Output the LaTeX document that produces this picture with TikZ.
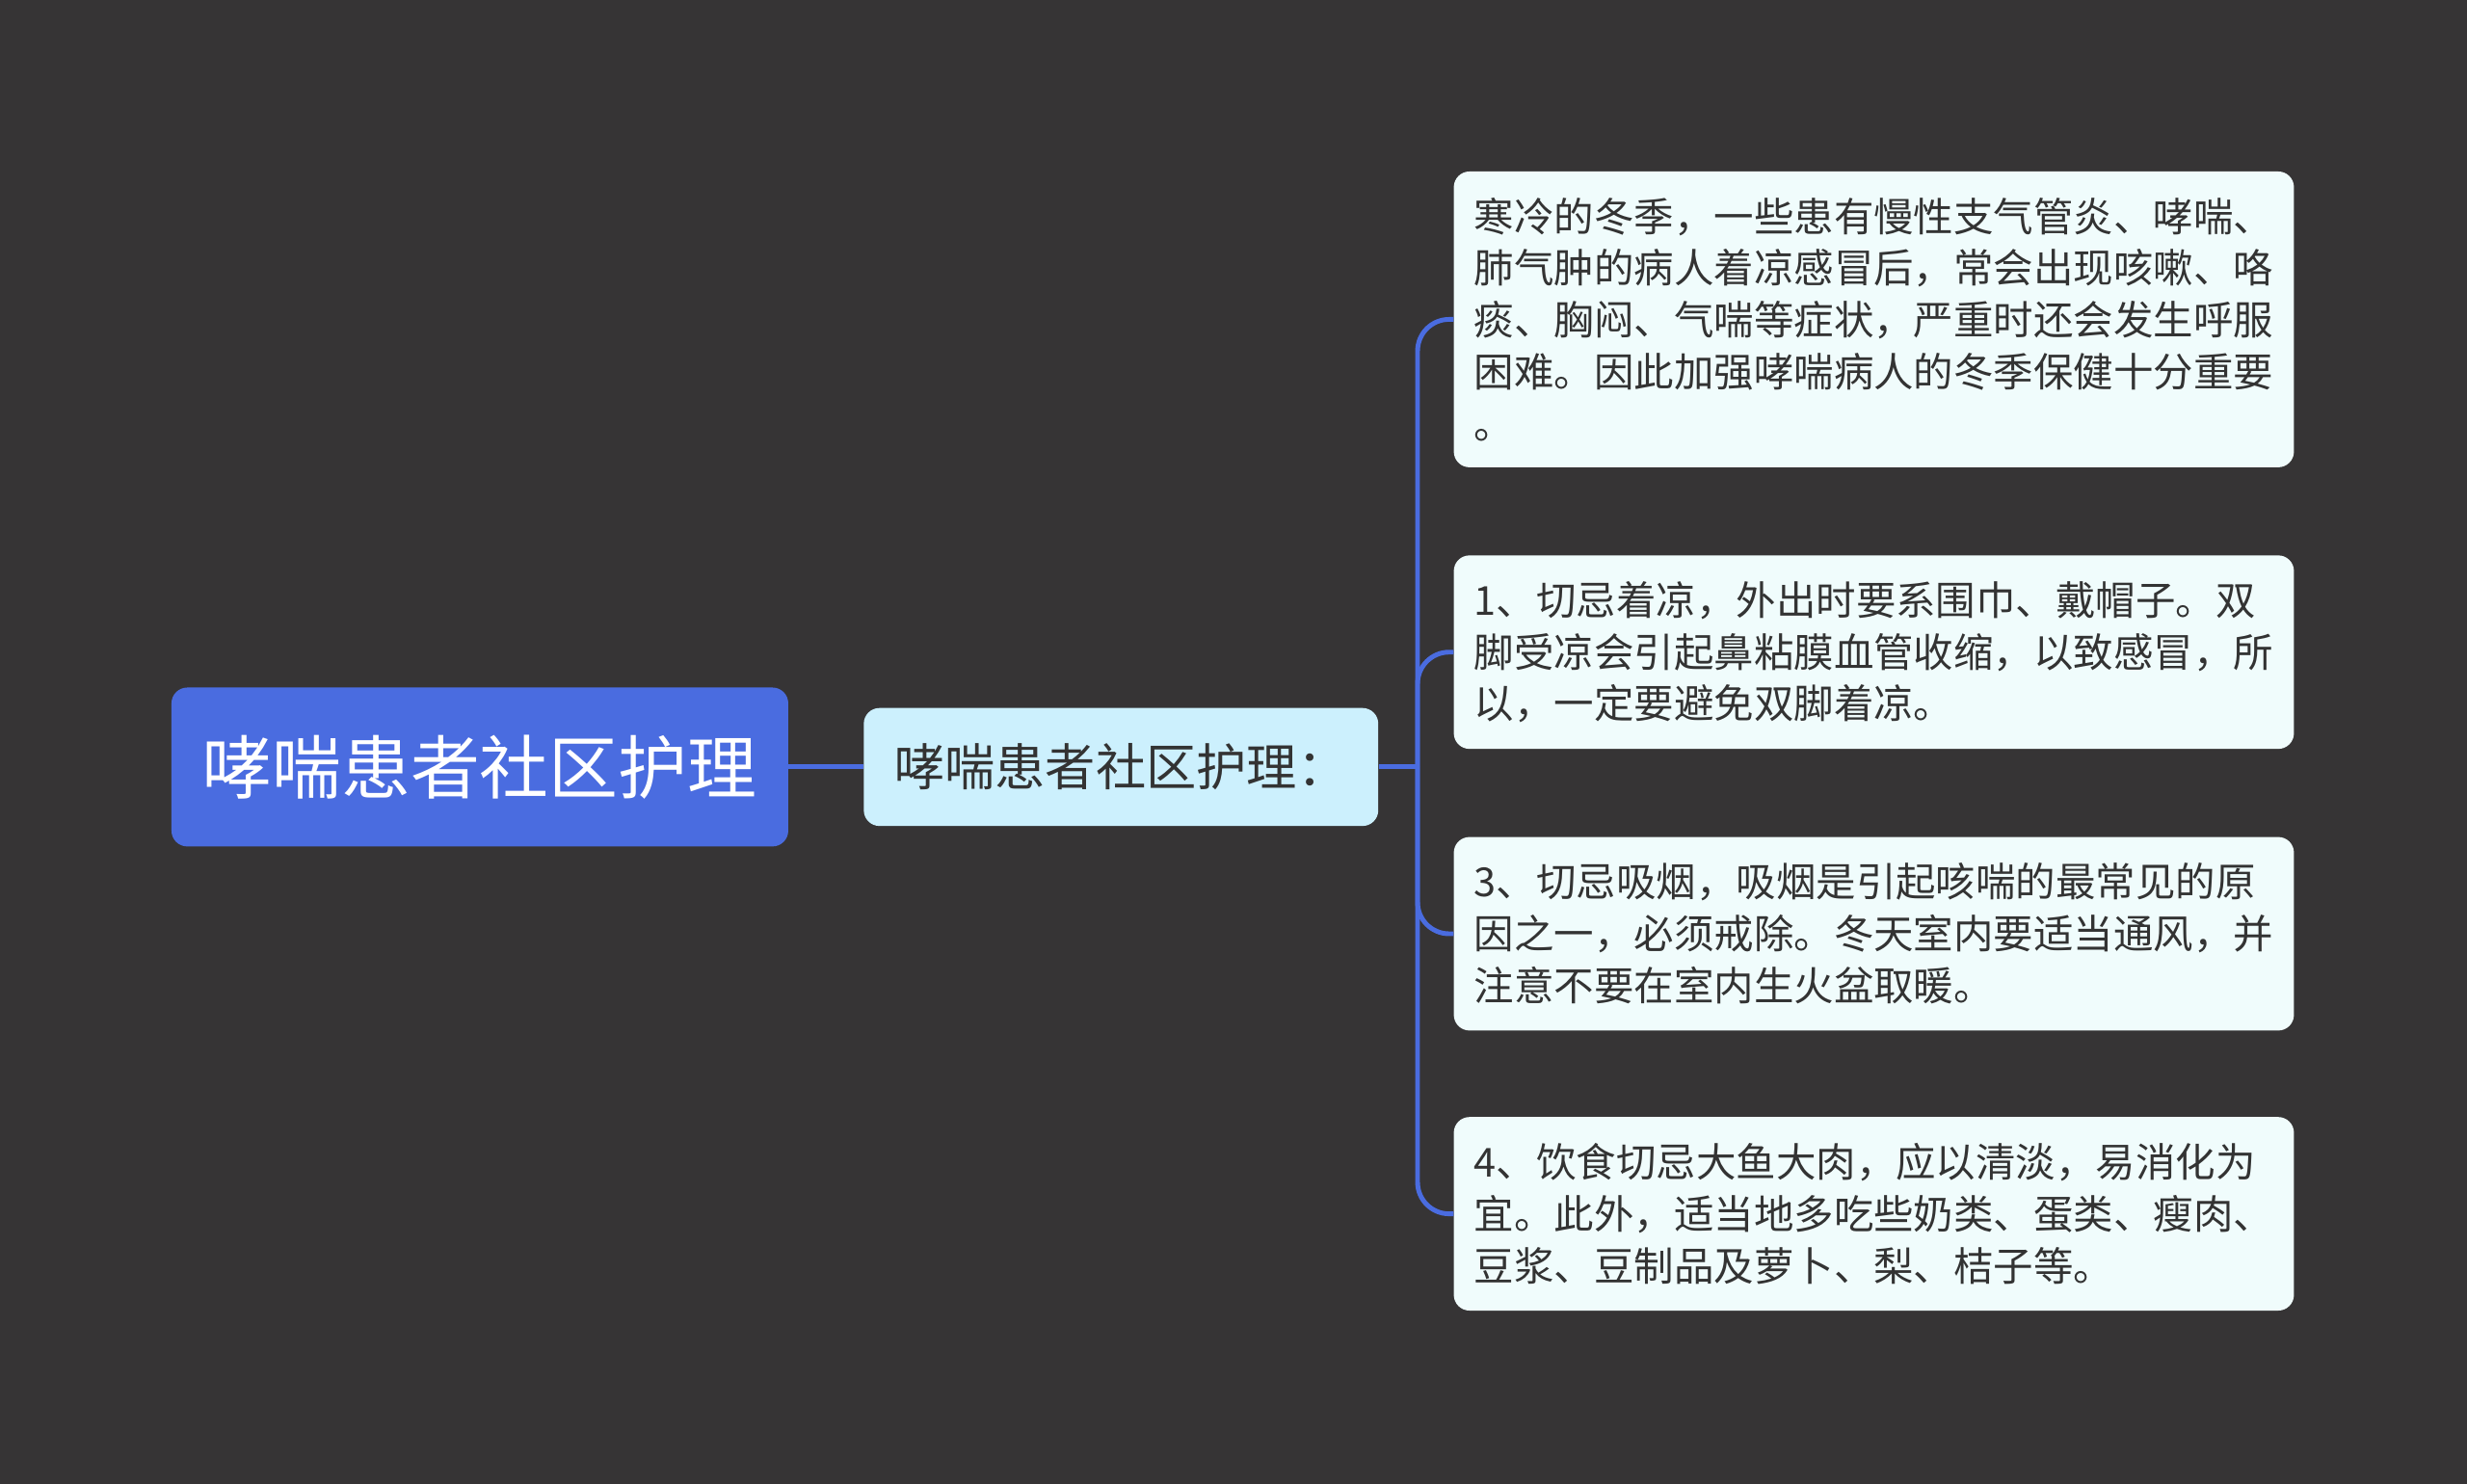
\documentclass[tikz,border=0pt]{standalone}
\usepackage{fontspec}
\newfontfamily\cjk{Noto Sans CJK SC}
\definecolor{bg}{HTML}{363435}
\definecolor{rootblue}{HTML}{4A6CE0}
\definecolor{subcyan}{HTML}{CCF0FD}
\definecolor{leafwhite}{HTML}{F0FCFC}
\definecolor{ink}{HTML}{333333}
\tikzset{
  rootbox/.style={fill=rootblue,rounded corners=10pt,text=white,font={\cjk\fontsize{44}{50}\selectfont},minimum width=392pt,minimum height=101pt,inner sep=0pt},
  subbox/.style={fill=subcyan,rounded corners=10pt,text=ink,font={\cjk\fontsize{32}{36}\selectfont},minimum width=327pt,minimum height=75pt,inner sep=0pt},
  leafbox/.style={fill=leafwhite,rounded corners=10pt,text=ink,font={\cjk\fontsize{25.4}{33}\selectfont},text width=508pt,align=left,inner xsep=13pt,inner ysep=0pt,minimum height=123pt},
  link/.style={draw=rootblue,line width=3pt}
}
\begin{document}
\begin{tikzpicture}[x=1pt,y=-1pt]
\fill[bg] (0,0) rectangle (1568,943);
\useasboundingbox (0,0) rectangle (1568,943);

\node[rootbox](root) at (305,487.5) {哮喘患者社区护理};
\node[subbox](sub) at (712.5,487.5) {哮喘患者社区护理：};
\coordinate (hub) at (901,487.5);

\node[leafbox,minimum height=188pt](l1) at (1191,203) {寒冷的冬季，一些患有慢性支气管炎、哮喘、\\肺气肿的病人着凉感冒后，常会出现咳嗽、咯\\痰、胸闷、气喘等症状，严重时还会发生呼服\\困难。因此加强哮喘病人的冬季保健十分重要\\。};
\node[leafbox](l2) at (1191,414.5) {1、切忌着凉，外出时要系围巾、戴帽子。双\\脚受凉会引起鼻粘膜血管收缩，以致感冒，所\\以，一定要避免双脚着凉。};
\node[leafbox](l3) at (1191,593.5) {3、切忌吸烟，吸烟是引起咳喘的最常见的原\\因之一，必须戒除。冬天室内要适当通风，并\\注意不要在室内生火盆取暖。};
\node[leafbox](l4) at (1191,771.5) {4、饮食切忌大鱼大肉，应以清淡，易消化为\\宜。此外，适当地多吃些奶类、蛋类、瘦肉、\\豆浆、豆制品及萝卜、梨、桔子等。};

\draw[link] (root) -- (sub);
\draw[link] (sub) -- (hub);
\foreach \n in {l1,l2,l3,l4}
  \draw[link,rounded corners=20pt] (hub) |- (\n.west);
\end{tikzpicture}
\end{document}
